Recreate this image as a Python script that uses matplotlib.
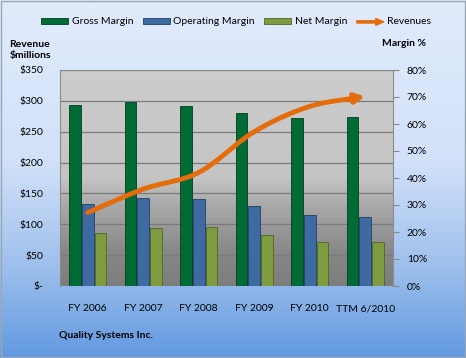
import matplotlib
matplotlib.use("Agg")
import matplotlib.pyplot as plt
import numpy as np
from matplotlib.patches import Patch, FancyArrow, Rectangle
from matplotlib.legend_handler import HandlerBase
from matplotlib.colors import LinearSegmentedColormap

plt.rcParams["font.family"] = ["Lato", "DejaVu Sans"]

# data
years = ["FY 2006", "FY 2007", "FY 2008", "FY 2009", "FY 2010", "TTM 6/2010"]
gross_margin = [67.0, 68.1, 66.7, 64.0, 62.1, 62.5]
operating_margin = [30.4, 32.5, 32.1, 29.6, 26.2, 25.4]
net_margin = [19.5, 21.4, 21.7, 18.8, 16.4, 16.4]
revenues = [119, 157, 184, 250, 291, 307]

rev_ticks = [0, 50, 100, 150, 200, 250, 300, 350]
rev_labels = ["$-", "$50", "$100", "$150", "$200", "$250", "$300", "$350"]
pct_ticks = [0, 10, 20, 30, 40, 50, 60, 70, 80]

c_gross, c_op, c_net, c_rev = "#006b35", "#3d6aa1", "#7f9b3f", "#e46c0a"

W, H = 466, 358
fig = plt.figure(figsize=(W / 100, H / 100), dpi=100)

# figure background gradient
bg = fig.add_axes([0, 0, 1, 1], zorder=-10)
bg_cmap = LinearSegmentedColormap.from_list(
    "bg", [(0, "#6199e0"), (0.25, "#9dbfec"), (0.55, "#d2e1f9"), (1, "#e1ebfc")])
bg.imshow(np.linspace(1, 0, 256).reshape(-1, 1), cmap=bg_cmap, aspect="auto",
          extent=[0, 1, 0, 1], vmin=0, vmax=1)
bg.add_patch(Rectangle((0.002, 0.003), 0.995, 0.994, fill=False, ec="#9aa6b6", lw=1))
bg.set_axis_off()

ax = fig.add_axes([60 / W, 1 - 286 / H, 333 / W, 216 / H])
x = np.arange(len(years))

# plot area gradient
pa_cmap = LinearSegmentedColormap.from_list(
    "pa", [(0, "#7d7d7d"), (0.15, "#878787"), (0.38, "#aaaaaa"), (0.5, "#c4c4c4"), (1, "#cdcdcd")])
ax.imshow(np.linspace(1, 0, 256).reshape(-1, 1), cmap=pa_cmap, aspect="auto",
          extent=[-0.5, len(years) - 0.5, 0, 80], vmin=0, vmax=1, zorder=0)

# gridlines follow the revenue scale
for t in rev_ticks[1:]:
    ax.axhline(t * 80 / 350, color="#7a7a7a", lw=0.9, zorder=1)

w = 0.21
ax.bar(x - 0.23, gross_margin, w, color=c_gross, edgecolor="#003d1e", lw=0.6, zorder=3)
ax.bar(x, operating_margin, w, color=c_op, edgecolor="#223f63", lw=0.6, zorder=3)
ax.bar(x + 0.23, net_margin, w, color=c_net, edgecolor="#526626", lw=0.6, zorder=3)

ax.set_xlim(-0.5, len(years) - 0.5)
ax.set_ylim(0, 80)
ax.set_xticks(x)
ax.set_xticklabels(years)
ax.tick_params(axis="x", length=0, pad=13, labelsize=7.5)
for s in ax.spines.values():
    s.set_color("#8c8c8c")
    s.set_linewidth(0.8)
ax.spines["bottom"].set_visible(False)

# revenue line on the dollar axis
ax2 = ax.twinx()
# twinx moves ticks around, so set the sides afterwards
ax.yaxis.tick_right()
ax.set_yticks(pct_ticks)
ax.set_yticklabels([f"{p}%" for p in pct_ticks])
ax.tick_params(axis="y", length=4, width=0.8, color="#888888", pad=6, labelsize=7.5)

ax2.set_ylim(0, 350)
ax2.yaxis.tick_left()
ax2.set_yticks(rev_ticks)
ax2.set_yticklabels(rev_labels)
ax2.tick_params(axis="y", length=0, pad=12, labelsize=7.5)
for s in ax2.spines.values():
    s.set_visible(False)

# smooth the line like Excel (Catmull-Rom through the points)
px = np.array(x, dtype=float)
py = np.array(revenues, dtype=float)
ext_x = np.concatenate([[2 * px[0] - px[1]], px, [2 * px[-1] - px[-2]]])
ext_y = np.concatenate([[2 * py[0] - py[1]], py, [2 * py[-1] - py[-2]]])
sx, sy = [], []
for i in range(1, len(ext_x) - 2):
    t = np.linspace(0, 1, 30)
    for arr, out in ((ext_x, sx), (ext_y, sy)):
        p0, p1, p2, p3 = arr[i - 1], arr[i], arr[i + 1], arr[i + 2]
        out.extend(0.5 * (2 * p1 + (-p0 + p2) * t + (2 * p0 - 5 * p1 + 4 * p2 - p3) * t ** 2
                          + (-p0 + 3 * p1 - 3 * p2 + p3) * t ** 3))
sx, sy = np.array(sx), np.array(sy)
ax2.plot(sx[:-4], sy[:-4], color=c_rev, lw=3.5, solid_capstyle="round", zorder=5)
ax2.annotate("", xy=(sx[-1], sy[-1]), xytext=(sx[-8], sy[-8]),
             arrowprops=dict(arrowstyle="-|>", color=c_rev, lw=3.5, mutation_scale=14,
                             shrinkA=0, shrinkB=0))


class ArrowHandler(HandlerBase):
    def create_artists(self, legend, orig, xd, yd, width, height, fontsize, trans):
        a = FancyArrow(xd, yd + height / 2, width, 0, width=height * 0.35,
                       head_width=height * 1.1, head_length=width * 0.3,
                       length_includes_head=True, color=c_rev, transform=trans)
        return [a]


handles = [Patch(facecolor=c_gross, edgecolor="#003d1e", lw=0.6),
           Patch(facecolor=c_op, edgecolor="#223f63", lw=0.6),
           Patch(facecolor=c_net, edgecolor="#526626", lw=0.6),
           Patch(color=c_rev)]
labels = ["Gross Margin", "Operating Margin", "Net Margin", "Revenues"]
fig.legend(handles, labels, loc="center", bbox_to_anchor=(0.507, 1 - 22 / H), ncol=4,
           frameon=False, fontsize=7.5, handlelength=2.6, handleheight=0.55,
           handletextpad=0.35, columnspacing=0.9,
           handler_map={handles[3]: ArrowHandler()})

fig.text(30 / W, 1 - 50 / H, "Revenue\n$millions", ha="center", va="center",
         fontsize=7.5, fontweight="bold", linespacing=1.3)
fig.text(404 / W, 1 - 43 / H, "Margin %", ha="center", va="center",
         fontsize=7.5, fontweight="bold")
fig.text(59 / W, 1 - 336 / H, "Quality Systems Inc.", ha="left", va="center",
         fontsize=7.5, fontweight="bold")

fig.savefig("out.png", dpi=100)
